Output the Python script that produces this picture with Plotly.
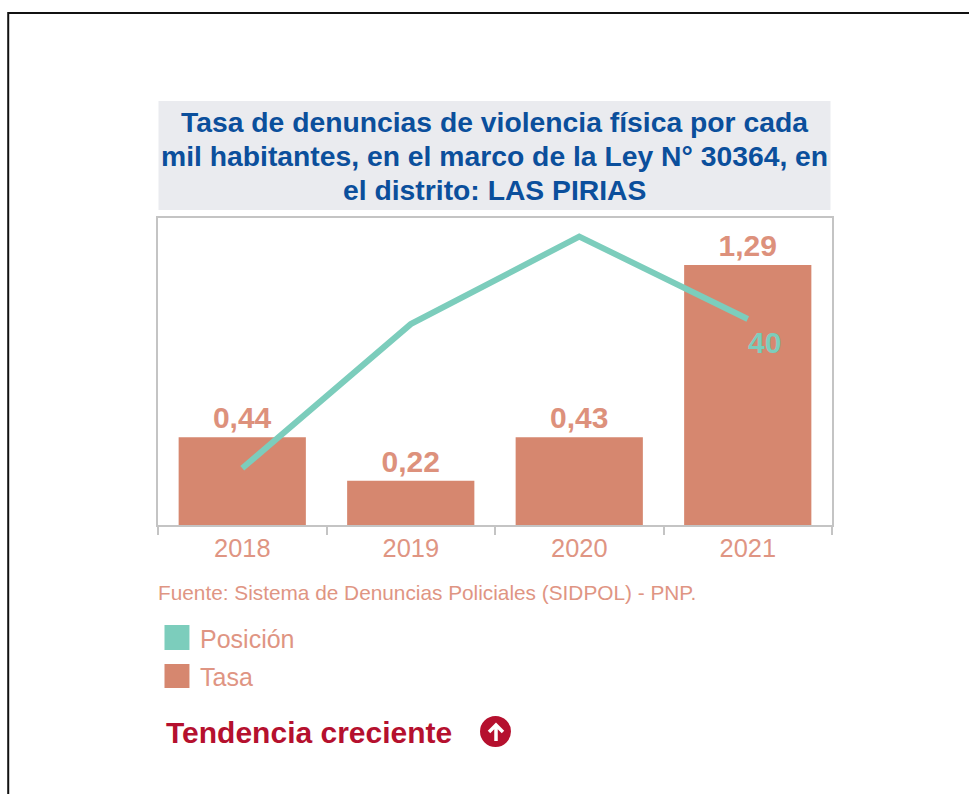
import plotly.graph_objects as go

years = ["2018", "2019", "2020", "2021"]
tasa = [0.435, 0.22, 0.435, 1.29]
tasa_labels = ["0,44", "0,22", "0,43", "1,29"]
posicion = [11, 39, 56, 40]
posicion_label = "40"

TEAL = "#7ccdbc"
SALMON = "#d6876f"
SALMON_TXT = "#dd917c"
TICK_TXT = "#df9583"
BLUE = "#0b4f9c"
RED = "#b5102e"
GRID = "#c4c4c4"

L, R, T, B = 157.5, 832.5, 218, 525


def px(x):
    return (x - L) / (R - L)


def py(y):
    return (B - y) / (B - T)


fig = go.Figure()
fig.add_bar(
    x=years, y=tasa, width=0.755, marker=dict(color=SALMON, line=dict(width=0)),
    text=tasa_labels, textposition="outside", cliponaxis=False,
    textfont=dict(family="Liberation Sans", size=30, color=SALMON_TXT, weight="bold"),
    name="Tasa",
)
fig.add_scatter(
    x=years, y=posicion, yaxis="y2", mode="lines", name="Posición",
    line=dict(color=TEAL, width=6),
)

shapes = [
    dict(type="rect", xref="paper", yref="paper", x0=px(7.5), x1=px(1000), y0=py(13), y1=py(830),
         line=dict(color="#111111", width=2), fillcolor="rgba(0,0,0,0)", layer="below"),
    dict(type="rect", xref="paper", yref="paper", x0=px(158), x1=px(831), y0=py(101), y1=py(210),
         line=dict(width=0), fillcolor="#eaebef", layer="below"),
    dict(type="rect", xref="paper", yref="paper", x0=px(164), x1=px(189), y0=py(625), y1=py(650),
         line=dict(width=0), fillcolor=TEAL),
    dict(type="rect", xref="paper", yref="paper", x0=px(164), x1=px(189), y0=py(664), y1=py(688),
         line=dict(width=0), fillcolor=SALMON),
    dict(type="circle", xref="paper", yref="paper", x0=px(480), x1=px(511), y0=py(716), y1=py(747),
         line=dict(width=0), fillcolor=RED),
    dict(type="path", xref="paper", yref="paper",
         path=(f"M {px(496)} {py(741)} L {px(496)} {py(725)} "
               f"M {px(489)} {py(732)} L {px(496)} {py(725)} L {px(503)} {py(732)}"),
         line=dict(color="white", width=3.5)),
]


def note(x, y, text, size, color, bold=False, anchor="left"):
    return dict(xref="paper", yref="paper", x=px(x), y=py(y), text=f"<b>{text}</b>" if bold else text,
                showarrow=False, xanchor=anchor, yanchor="middle",
                font=dict(family="Liberation Sans", size=size, color=color))


annotations = [
    note(494.5, 122, "Tasa de denuncias de violencia física por cada", 28.3, BLUE, True, "center"),
    note(494.5, 156, "mil habitantes, en el marco de la Ley N° 30364, en", 28.3, BLUE, True, "center"),
    note(494.5, 190, "el distrito: LAS PIRIAS", 28.3, BLUE, True, "center"),
    note(155, 592, "Fuente: Sistema de Denuncias Policiales (SIDPOL) - PNP.", 20.8, TICK_TXT),
    note(198, 639, "Posición", 25, TICK_TXT),
    note(198, 677, "Tasa", 25, TICK_TXT),
    note(164, 732, "Tendencia creciente", 30, RED, True),
    dict(x=len(years) - 1, y=posicion[-1], xref="x", yref="y2", text=f"<b>{posicion_label}</b>",
         showarrow=False, xanchor="center", yanchor="middle", xshift=17, yshift=-24,
         font=dict(family="Liberation Sans", size=30, color=TEAL)),
]

fig.update_layout(
    width=969, height=794, autosize=False, showlegend=False,
    margin=dict(l=L, r=969 - R, t=T, b=794 - B),
    paper_bgcolor="white", plot_bgcolor="white",
    font=dict(family="Liberation Sans"),
    shapes=shapes, annotations=annotations,
    xaxis=dict(type="category", categoryorder="array", categoryarray=years,
               range=[-0.5, len(years) - 0.5], tickangle=0,
               tickson="boundaries", ticks="outside", ticklen=8, tickwidth=2,
               tickcolor=GRID, showline=True, linecolor=GRID, linewidth=2, mirror=True,
               showgrid=False, zeroline=False,
               tickfont=dict(family="Liberation Sans", size=25.4, color=TICK_TXT)),
    yaxis=dict(range=[0, 1.523], showticklabels=False, ticks="", showline=True, linecolor=GRID,
               linewidth=2, mirror=True, showgrid=False, zeroline=False),
    yaxis2=dict(range=[0, 59.6], overlaying="y", visible=False, showgrid=False, zeroline=False),
)

fig.write_html("out.html", config={"displayModeBar": False},
               post_script="document.body.style.margin='0';document.documentElement.style.overflow='hidden';")
